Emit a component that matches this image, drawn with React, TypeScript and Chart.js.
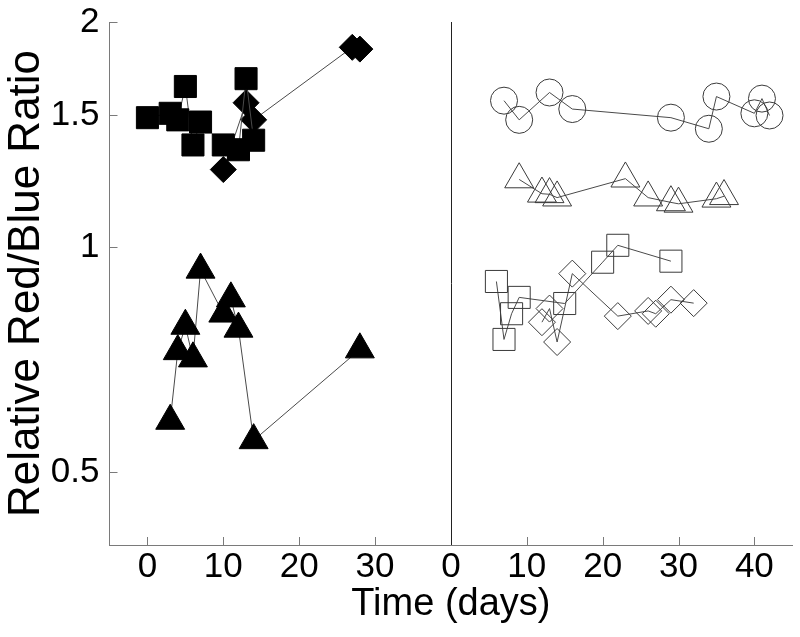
import React, { useEffect, useRef } from "react";
import { Chart, registerables } from "chart.js";

Chart.register(...registerables);

// ---- Data (left panel: filled markers; right panel: open markers) ----
const leftSquaresX = [0, 3, 4, 5, 6, 7, 10, 12, 13, 14];
const leftSquaresY = [1.49, 1.51, 1.48, 1.64, 1.37, 1.47, 1.37, 1.35, 1.68, 1.39];

const leftDiamondsX = [10, 13, 14, 27, 28];
const leftDiamondsY = [1.27, 1.56, 1.48, 1.85, 1.84];

const leftTrianglesX = [3, 4, 5, 6, 7, 10, 11, 12, 14, 28];
const leftTrianglesY = [0.586, 0.726, 0.785, 0.71, 0.933, 0.815, 0.854, 0.778, 0.552, 0.73];

const rightCirclesX = [7, 9, 13, 16, 29, 34, 35, 40, 41, 42];
const rightCirclesY = [1.57, 1.48, 1.61, 1.53, 1.49, 1.44, 1.59, 1.51, 1.58, 1.5];

const rightTrianglesX = [9, 12, 13, 14, 23, 26, 29, 30, 35, 36];
const rightTrianglesY = [1.232, 1.179, 1.177, 1.165, 1.235, 1.165, 1.148, 1.143, 1.161, 1.17];

const rightSquaresX = [6, 7, 8, 9, 15, 20, 22, 29];
const rightSquaresY = [0.9, 0.753, 0.815, 0.857, 0.841, 0.955, 1.006, 0.958];

const rightDiamondsX = [12, 13, 14, 16, 22, 26, 27, 29, 32];
const rightDiamondsY = [0.794, 0.828, 0.747, 0.922, 0.809, 0.822, 0.815, 0.851, 0.842];

// Axis definitions
const leftTicks = [0, 10, 20, 30];
const rightTicks = [0, 10, 20, 30, 40];
const LEFT_MIN = -5;
const LEFT_MAX = 40; // left panel spans -5..40
const RIGHT_MAX = 45; // right panel spans 0..45
const yTicks = [0.5, 1, 1.5, 2];
const Y_MIN = 0.4;
const Y_MAX = 2;

const FONT = "'Liberation Sans', Arial, Helvetica, sans-serif";

const toPts = (xs: number[], ys: number[], off: number) =>
  xs.map((x, i) => ({ x: x + off, y: ys[i] }));

export default function App() {
  const ref = useRef<HTMLCanvasElement | null>(null);

  useEffect(() => {
    if (!ref.current) return;
    const LINE = "#4a4a4a";
    const OPEN = "#3a3a3a";

    const filled = (label: string, pts: any[], style: string, r: number) => ({
      label,
      data: pts,
      showLine: true,
      borderColor: LINE,
      borderWidth: 1,
      pointStyle: style,
      pointRadius: r,
      pointBackgroundColor: "#000",
      pointBorderColor: "#000",
      pointBorderWidth: 1,
      fill: false,
    });
    const open = (label: string, pts: any[], style: string, r: number) => ({
      label,
      data: pts,
      showLine: true,
      borderColor: LINE,
      borderWidth: 1,
      pointStyle: style,
      pointRadius: r,
      pointBackgroundColor: "rgba(0,0,0,0)",
      pointBorderColor: OPEN,
      pointBorderWidth: 1,
      fill: false,
    });

    const OFF = LEFT_MAX;
    const combinedTicks = [...leftTicks, ...rightTicks.map((t) => t + OFF)];

    const innerTicks = {
      id: "innerTicks",
      afterDraw(chart: any) {
        const { ctx, chartArea, scales } = chart;
        const x = scales.x;
        const y = scales.y;
        ctx.save();
        ctx.strokeStyle = "#7a7a7a";
        ctx.lineWidth = 1;
        ctx.beginPath();
        combinedTicks.forEach((t) => {
          const px = Math.round(x.getPixelForValue(t)) + 0.5;
          ctx.moveTo(px, chartArea.bottom);
          ctx.lineTo(px, chartArea.bottom - 8);
        });
        yTicks.forEach((t) => {
          const py = Math.round(y.getPixelForValue(t)) + 0.5;
          ctx.moveTo(chartArea.left, py);
          ctx.lineTo(chartArea.left + 8, py);
        });
        ctx.stroke();
        // divider (right panel y-axis)
        const dx = Math.round(x.getPixelForValue(OFF)) + 0.5;
        ctx.strokeStyle = "#222";
        ctx.beginPath();
        ctx.moveTo(dx, chartArea.top);
        ctx.lineTo(dx, chartArea.bottom);
        ctx.stroke();
        ctx.restore();
      },
    };

    const chart = new Chart(ref.current, {
      type: "scatter",
      data: {
        datasets: [
          filled("Squares", toPts(leftSquaresX, leftSquaresY, 0), "rect", 15.6),
          filled("Diamonds", toPts(leftDiamondsX, leftDiamondsY, 0), "rectRot", 13),
          filled("Triangles", toPts(leftTrianglesX, leftTrianglesY, 0), "triangle", 16.7),
          open("Circles", toPts(rightCirclesX, rightCirclesY, OFF), "circle", 13.5),
          open("Open triangles", toPts(rightTrianglesX, rightTrianglesY, OFF), "triangle", 16.7),
          open("Open squares", toPts(rightSquaresX, rightSquaresY, OFF), "rect", 15.6),
          open("Open diamonds", toPts(rightDiamondsX, rightDiamondsY, OFF), "rectRot", 13.5),
        ] as any,
      },
      plugins: [innerTicks],
      options: {
        animation: false,
        responsive: false,
        devicePixelRatio: 1,
        layout: { padding: { top: 22, right: 8, left: 0, bottom: 0 } },
        plugins: {
          legend: { display: false },
          tooltip: { enabled: false },
        },
        scales: {
          x: {
            type: "linear",
            min: LEFT_MIN,
            max: OFF + RIGHT_MAX,
            afterBuildTicks: (s: any) => {
              s.ticks = combinedTicks.map((v) => ({ value: v }));
            },
            afterFit: (s: any) => {
              s.height = 92;
              s.paddingLeft = 0;
              s.paddingRight = 0;
              s.paddingTop = 0;
              s.paddingBottom = 0;
            },
            grid: { display: false, drawTicks: false },
            border: { display: true, color: "#7a7a7a", width: 1 },
            ticks: {
              color: "#000",
              padding: 1,
              maxRotation: 0,
              autoSkip: false,
              font: { family: FONT, size: 35 },
              callback: (v: any) => String(v >= OFF ? v - OFF : v),
            },
            title: {
              display: true,
              text: "Time (days)",
              color: "#000",
              padding: { top: 0, bottom: 10 },
              font: { family: FONT, size: 38 },
            },
          },
          y: {
            type: "logarithmic",
            min: Y_MIN,
            max: Y_MAX,
            afterBuildTicks: (s: any) => {
              s.ticks = yTicks.map((v) => ({ value: v }));
            },
            afterFit: (s: any) => {
              s.width = 109.5;
              s.paddingTop = 0;
              s.paddingBottom = 0;
              s.paddingLeft = 0;
              s.paddingRight = 0;
            },
            grid: { display: false, drawTicks: false },
            border: { display: true, color: "#7a7a7a", width: 1 },
            ticks: {
              color: "#000",
              padding: 10,
              autoSkip: false,
              font: { family: FONT, size: 35 },
              callback: (v: any) => String(v),
            },
            title: {
              display: true,
              text: "Relative Red/Blue Ratio",
              color: "#000",
              padding: { top: 0, bottom: 0 },
              font: { family: FONT, size: 44 },
            },
          },
        },
      },
    });
    return () => chart.destroy();
  }, []);

  return (
    <div style={{ position: "fixed", left: 0, top: 0, width: 800, height: 637, overflow: "hidden", background: "#fff" }}>
      <canvas
        ref={ref}
        width={810}
        height={637}
        style={{ display: "block", width: 810, height: 637 }}
      />
    </div>
  );
}
